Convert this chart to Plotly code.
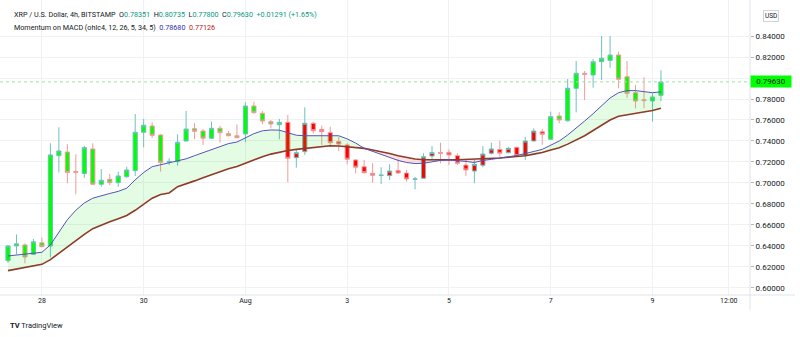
import pandas as pd
import plotly.graph_objects as go

# ---------------- data ----------------
start_time = "2023-07-27 08:00"
period_hours = 4

open_ = [0.626, 0.640, 0.641, 0.632, 0.643, 0.640, 0.726, 0.7295, 0.711, 0.709,
         0.7324, 0.6988, 0.7035, 0.7003, 0.706, 0.7117, 0.7483, 0.7543, 0.7457, 0.7198,
         0.7203, 0.740, 0.7517, 0.7495, 0.7426, 0.7521, 0.747, 0.745, 0.7467, 0.7733,
         0.7664, 0.7584, 0.7555, 0.7578, 0.7241, 0.7298, 0.7569, 0.7511, 0.7479, 0.7394,
         0.7362, 0.7219, 0.7155, 0.7092, 0.7071, 0.707, 0.712, 0.7095, 0.7036, 0.7045,
         0.7257, 0.729, 0.7292, 0.726, 0.7171, 0.7114, 0.7169, 0.7283, 0.732, 0.7289,
         0.734, 0.726, 0.740, 0.7489, 0.7416, 0.7638, 0.7593, 0.7902, 0.8045, 0.8029,
         0.8155, 0.8168, 0.8219, 0.8012, 0.786, 0.7792, 0.7781, 0.78351]
high = [0.641, 0.651, 0.6425, 0.6467, 0.648, 0.7378, 0.753, 0.737, 0.7273, 0.7352,
        0.7378, 0.7133, 0.7086, 0.7108, 0.7155, 0.7657, 0.761, 0.7578, 0.7465, 0.7235,
        0.7464, 0.7686, 0.7569, 0.7512, 0.7584, 0.7543, 0.7495, 0.7559, 0.7769, 0.7775,
        0.7686, 0.760, 0.761, 0.7648, 0.7314, 0.7721, 0.7584, 0.7546, 0.7536, 0.744,
        0.7378, 0.7228, 0.7219, 0.7188, 0.715, 0.7178, 0.7226, 0.7124, 0.7057, 0.7283,
        0.7352, 0.7384, 0.732, 0.7283, 0.7219, 0.7219, 0.7352, 0.7384, 0.7403, 0.7343,
        0.7345, 0.744, 0.752, 0.7515, 0.768, 0.7673, 0.799, 0.8162, 0.8067, 0.8181,
        0.840, 0.840, 0.825, 0.8162, 0.7933, 0.8007, 0.7854, 0.80735]
low = [0.624, 0.632, 0.6235, 0.6315, 0.639, 0.6292, 0.710, 0.6997, 0.6893, 0.705,
       0.698, 0.6965, 0.698, 0.6965, 0.705, 0.7067, 0.734, 0.743, 0.7108, 0.7171,
       0.7165, 0.7395, 0.7416, 0.7362, 0.7420, 0.7384, 0.7445, 0.7428, 0.7388, 0.766,
       0.756, 0.752, 0.7416, 0.7007, 0.7146, 0.7267, 0.747, 0.7362, 0.7346, 0.7305,
       0.7178, 0.7092, 0.709, 0.7003, 0.699, 0.7029, 0.7085, 0.7012, 0.694, 0.704,
       0.7226, 0.7188, 0.7171, 0.7171, 0.7067, 0.6997, 0.715, 0.727, 0.725, 0.728,
       0.7255, 0.7219, 0.7395, 0.7362, 0.741, 0.7569, 0.7585, 0.7673, 0.779, 0.7908,
       0.7981, 0.8098, 0.7902, 0.7812, 0.7711, 0.7711, 0.7584, 0.77800]
close = [0.640, 0.642, 0.6295, 0.644, 0.6393, 0.7267, 0.7305, 0.710, 0.7102, 0.7337,
         0.6988, 0.7026, 0.7003, 0.7067, 0.7124, 0.7483, 0.755, 0.7454, 0.7194, 0.7205,
         0.7388, 0.7514, 0.7492, 0.7426, 0.7521, 0.7479, 0.745, 0.7431, 0.7733, 0.767,
         0.759, 0.7562, 0.7578, 0.7235, 0.7289, 0.7569, 0.7498, 0.7489, 0.7384, 0.7371,
         0.7226, 0.715, 0.7098, 0.7073, 0.7075, 0.7114, 0.7095, 0.7038, 0.7039, 0.725,
         0.729, 0.7283, 0.7267, 0.7188, 0.7124, 0.7178, 0.7276, 0.7324, 0.7283, 0.733,
         0.726, 0.740, 0.7495, 0.7464, 0.7632, 0.760, 0.7902, 0.8045, 0.8035, 0.8155,
         0.8188, 0.8219, 0.7988, 0.7854, 0.7781, 0.7785, 0.7819, 0.79630]

macd_fast = [0.6305, 0.6315, 0.632, 0.633, 0.634, 0.641, 0.653, 0.665, 0.674, 0.681,
             0.6855, 0.688, 0.690, 0.692, 0.695, 0.703, 0.710, 0.7155, 0.7175, 0.719,
             0.721, 0.723, 0.726, 0.729, 0.732, 0.735, 0.7375, 0.739, 0.743, 0.747,
             0.7497, 0.7505, 0.7503, 0.748, 0.7455, 0.745, 0.745, 0.745, 0.7452, 0.745,
             0.742, 0.738, 0.733, 0.730, 0.727, 0.724, 0.7215, 0.7195, 0.7185, 0.7188,
             0.7205, 0.7215, 0.722, 0.7215, 0.7205, 0.7195, 0.7215, 0.7225, 0.7235, 0.7248,
             0.7262, 0.728, 0.730, 0.732, 0.736, 0.740, 0.7457, 0.752, 0.759, 0.766,
             0.7735, 0.781, 0.786, 0.788, 0.788, 0.787, 0.786, 0.78680]
macd_slow = [0.6165, 0.618, 0.6195, 0.621, 0.6225, 0.627, 0.633, 0.6395, 0.645, 0.651,
             0.6565, 0.660, 0.663, 0.666, 0.669, 0.674, 0.680, 0.6855, 0.689, 0.6905,
             0.6965, 0.699, 0.702, 0.705, 0.708, 0.7105, 0.7135, 0.7158, 0.719, 0.722,
             0.725, 0.7275, 0.7295, 0.731, 0.732, 0.733, 0.7338, 0.7352, 0.7355, 0.7353,
             0.7345, 0.734, 0.733, 0.7315, 0.730, 0.728, 0.726, 0.7245, 0.7228, 0.7222,
             0.722, 0.7218, 0.722, 0.7222, 0.7224, 0.7226, 0.7228, 0.7232, 0.7238, 0.7245,
             0.725, 0.726, 0.7275, 0.729, 0.7315, 0.7336, 0.737, 0.741, 0.745, 0.750,
             0.7552, 0.760, 0.7635, 0.765, 0.7664, 0.768, 0.769, 0.77126]

# momentum state per candle (1 = bullish body colour, 0 = bearish body colour)
momentum = [1] * 33 + [0] * 31 + [1] * 14

price_ticks = [0.60, 0.62, 0.64, 0.66, 0.68, 0.70, 0.72, 0.74, 0.76, 0.78, 0.80, 0.82, 0.84]
date_ticks = ["2023-07-28 00:00", "2023-07-30 00:00", "2023-08-01 00:00", "2023-08-03 00:00",
              "2023-08-05 00:00", "2023-08-07 00:00", "2023-08-09 00:00", "2023-08-10 12:00"]
date_labels = ["28", "30", "Aug", "3", "5", "7", "9", "12:00"]

# ---------------- figure ----------------
times = pd.date_range(start_time, periods=len(close), freq=f"{period_hours}h")
df = pd.DataFrame(dict(t=times, o=open_, h=high, l=low, c=close,
                       fast=macd_fast, slow=macd_slow, m=momentum))
upper = [max(a, b) for a, b in zip(macd_fast, macd_slow)]
last = close[-1]

FONT = "Roboto, Liberation Sans, sans-serif"
UP_LINE = "#6cc2bc"
DN_LINE = "#f29a9a"

fig = go.Figure()
fig.add_trace(go.Scatter(x=df.t, y=df.slow, mode="lines", line=dict(width=0),
                         hoverinfo="skip", showlegend=False))
fig.add_trace(go.Scatter(x=df.t, y=upper, mode="lines", line=dict(width=0),
                         fill="tonexty", fillcolor="rgba(0,230,0,0.11)",
                         hoverinfo="skip", showlegend=False))
fig.add_trace(go.Scatter(x=df.t, y=df.fast, mode="lines", line=dict(width=0),
                         hoverinfo="skip", showlegend=False))
fig.add_trace(go.Scatter(x=df.t, y=upper, mode="lines", line=dict(width=0),
                         fill="tonexty", fillcolor="rgba(240,0,0,0.11)",
                         hoverinfo="skip", showlegend=False))
fig.add_trace(go.Scatter(x=df.t, y=df.slow, mode="lines",
                         line=dict(color="#8e3b28", width=1.6), showlegend=False))
fig.add_trace(go.Scatter(x=df.t, y=df.fast, mode="lines",
                         line=dict(color="#5454b8", width=1), showlegend=False))

for state, body in [(1, "#00ff00"), (0, "#ff0000")]:
    d = df[df.m == state]
    fig.add_trace(go.Candlestick(
        x=d.t, open=d.o, high=d.h, low=d.l, close=d.c,
        increasing=dict(line=dict(color=UP_LINE, width=1), fillcolor=body),
        decreasing=dict(line=dict(color=DN_LINE, width=1), fillcolor=body),
        whiskerwidth=0, showlegend=False))

t0 = times[0]
x_range = [t0 - pd.Timedelta(hours=3.77), t0 + pd.Timedelta(hours=350)]

# tick labels hidden behind the last-price label are left blank
tick_text = ["" if abs(v - last) < 0.008 else f"{v:.5f}" for v in price_ticks]

fig.update_layout(
    width=800, height=337,
    margin=dict(l=0, r=50, t=0, b=42),
    paper_bgcolor="white", plot_bgcolor="white",
    font=dict(family=FONT, size=7, color="#131722"),
    showlegend=False,
    xaxis=dict(type="date", range=x_range, rangeslider=dict(visible=False),
               tickvals=pd.to_datetime(date_ticks), ticktext=date_labels,
               showgrid=True, gridcolor="#f0f1f4", gridwidth=1,
               zeroline=False, showline=False, ticks="",
               tickfont=dict(size=7, color="#131722")),
    yaxis=dict(side="right", range=[0.5933, 0.8743],
               tickvals=price_ticks, ticktext=tick_text,
               showgrid=True, gridcolor="#f0f1f4", gridwidth=1,
               zeroline=False, showline=False,
               ticks="outside", ticklen=3, tickcolor="#b2b5be",
               tickfont=dict(size=8, color="#131722")),
)

fig.add_shape(type="line", xref="paper", yref="y", x0=0, x1=1, y0=last, y1=last,
              line=dict(color="#9ee29e", width=1, dash="dot"))
fig.add_shape(type="line", xref="paper", yref="paper", x0=1, x1=1, y0=-0.05, y1=1,
              line=dict(color="#e0e3eb", width=1))
fig.add_shape(type="line", xref="paper", yref="paper", x0=0, x1=1.06, y0=0, y1=0,
              line=dict(color="#e0e3eb", width=1))

fig.add_annotation(xref="paper", yref="y", x=1, y=last, xanchor="left", yanchor="middle",
                   text=f"{last:.5f}", showarrow=False, bgcolor="#00ff00",
                   font=dict(size=8, color="#131722"), borderpad=1, width=38)
fig.add_annotation(xref="paper", yref="paper", x=1, y=(295 - 16) / 295,
                   xanchor="left", yanchor="middle",
                   xshift=13, text="USD", showarrow=False, bgcolor="white",
                   bordercolor="#d1d4dc", borderwidth=1, borderpad=1,
                   font=dict(size=6.5, color="#131722"))

teal = "#089981"
o, h, l, c = open_[-1], high[-1], low[-1], close[-1]
line1 = ("XRP / U.S. Dollar, 4h, BITSTAMP  "
         f"O<span style='color:{teal}'>{o:.5f}</span>  "
         f"H<span style='color:{teal}'>{h:.5f}</span>  "
         f"L<span style='color:{teal}'>{l:.5f}</span>  "
         f"C<span style='color:{teal}'>{c:.5f}</span>  "
         f"<span style='color:{teal}'>+0.01291 (+1.65%)</span>")
line2 = ("Momentum on MACD (ohlc4, 12, 26, 5, 34, 5)  "
         f"<span style='color:#2f2fb0'>{macd_fast[-1]:.5f}</span>  "
         f"<span style='color:#b22222'>{macd_slow[-1]:.5f}</span>")
fig.add_annotation(xref="paper", yref="paper", x=12 / 750, y=(295 - 15) / 295,
                   xanchor="left", yanchor="middle", text=line1, showarrow=False,
                   font=dict(size=7.2, color="#131722"))
fig.add_annotation(xref="paper", yref="paper", x=12 / 750, y=(295 - 28) / 295,
                   xanchor="left", yanchor="middle", text=line2, showarrow=False,
                   font=dict(size=7.2, color="#131722"))
fig.add_annotation(xref="paper", yref="paper", x=8 / 750, y=(295 - 326) / 295,
                   xanchor="left", yanchor="middle",
                   text="<b>TV</b> TradingView", showarrow=False,
                   font=dict(size=7.5, color="#131722"))

fig.write_html("out.html")
